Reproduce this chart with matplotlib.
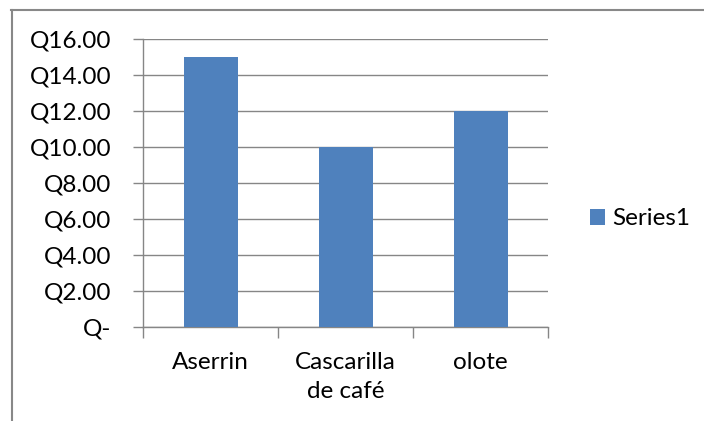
import matplotlib.pyplot as plt
from matplotlib.lines import Line2D

categories = ['Aserrin', 'Cascarilla\nde café', 'olote']
values = [15, 10, 12]
yticks = [0, 2, 4, 6, 8, 10, 12, 14, 16]
series_name = 'Series1'

plt.rcParams['font.family'] = ['Lato', 'DejaVu Sans']

bar_color = '#4F81BD'
grid_color = '#868686'
fs = 17.5

fig = plt.figure(figsize=(7.04, 4.21), dpi=100)
ax = fig.add_axes([143/704, 94/421, 405/704, 288/421])

x = list(range(len(categories)))
ax.bar(x, values, width=0.4, color=bar_color, label=series_name, zorder=3)

ax.set_xlim(-0.5, len(categories) - 0.5)
ax.set_ylim(0, 16)

ax.set_yticks(yticks)
ax.set_yticklabels(['Q-' if v == 0 else f'Q{v:.2f}' for v in yticks])
ax.tick_params(axis='y', length=7, width=1, color=grid_color, pad=16, labelsize=fs)

ax.set_xticks([i - 0.5 for i in range(len(categories) + 1)])
ax.set_xticklabels([])
ax.set_xticks(x, minor=True)
ax.set_xticklabels(categories, minor=True, fontsize=fs, linespacing=1.45)
ax.tick_params(axis='x', which='major', length=8, width=1, color=grid_color, direction='out')
ax.tick_params(axis='x', which='minor', length=0, pad=18)

ax.grid(axis='y', color=grid_color, linewidth=1, zorder=0)
for side in ['top', 'right']:
    ax.spines[side].set_visible(False)
for side in ['left', 'bottom']:
    ax.spines[side].set_color(grid_color)
    ax.spines[side].set_linewidth(1)

fig.legend(loc='center left', bbox_to_anchor=(590/704, 1 - 219/421), frameon=False,
           fontsize=fs, handlelength=0.62, handleheight=0.62, handletextpad=0.3,
           borderpad=0, borderaxespad=0)

# outer chart border (left and top visible)
fig.add_artist(Line2D([11.5/704, 11.5/704], [0, 1 - 10/421], color='#888888', lw=1.5,
                      transform=fig.transFigure))
fig.add_artist(Line2D([11/704, 1], [1 - 10/421, 1 - 10/421], color='#888888', lw=1.5,
                      transform=fig.transFigure))

fig.savefig('out.png', dpi=100)
